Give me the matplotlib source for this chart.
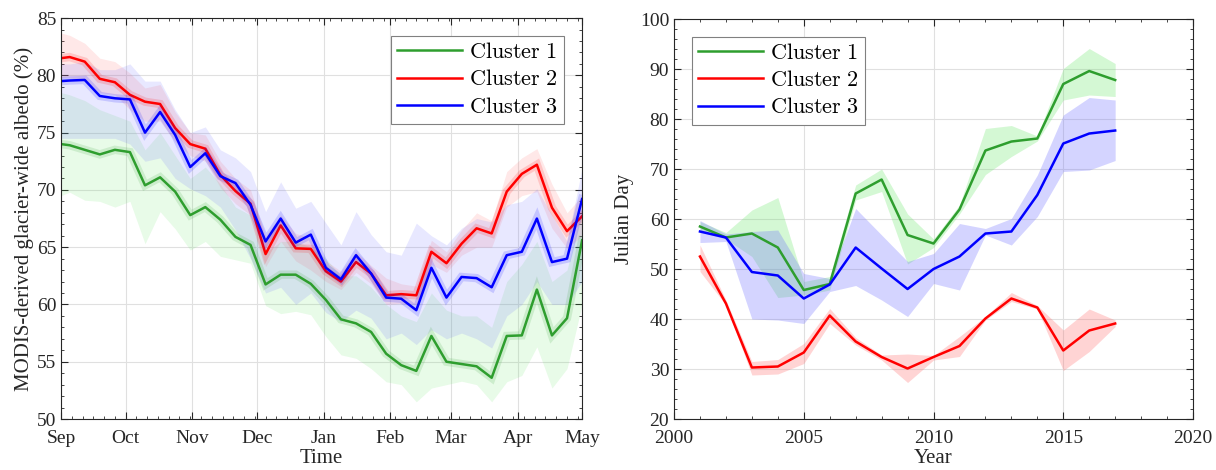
import numpy as np
import matplotlib.pyplot as plt
from matplotlib.ticker import MultipleLocator

plt.rcParams['font.family'] = ['Liberation Serif', 'DejaVu Serif']
plt.rcParams['mathtext.fontset'] = 'cm'

# ---- left panel: seasonal albedo (days since 1 Sep) ----
days = [0, 4, 11, 18, 25, 32, 39, 46, 53, 60, 67, 74, 81, 88, 95, 102, 109, 116,
        123, 130, 137, 144, 151, 158, 165, 172, 179, 186, 193, 200, 207, 214,
        221, 228, 235, 242]

alb1 = [74.0, 73.9, 73.5, 73.1, 73.5, 73.3, 70.4, 71.1, 69.85, 67.8, 68.5, 67.4,
        65.9, 65.2, 61.75, 62.6, 62.6, 61.8, 60.4, 58.7, 58.35, 57.6, 55.7, 54.7,
        54.2, 57.25, 55.0, 54.8, 54.6, 53.6, 57.25, 57.3, 61.3, 57.3, 58.8, 65.6]
alb1_lo = [69.5, 69.8, 69.1, 69.0, 68.5, 69.0, 65.3, 68.1, 66.6, 64.75, 65.5, 64.2,
           63.9, 63.6, 59.9, 59.2, 59.4, 59.1, 57.2, 55.6, 55.3, 54.4, 53.25, 53.0,
           51.5, 52.7, 53.0, 53.3, 53.0, 51.5, 53.25, 53.8, 56.3, 52.7, 54.4, 60.0]
alb1_hi = [78.5, 78.3, 77.8, 77.0, 76.5, 76.0, 73.5, 75.0, 73.0, 71.0, 72.0, 70.5,
           68.5, 67.8, 64.5, 65.5, 65.5, 65.0, 64.0, 62.5, 62.5, 61.5, 60.0, 59.0,
           58.5, 61.0, 59.5, 59.0, 59.0, 58.0, 62.0, 63.5, 65.5, 62.0, 63.0, 68.5]

alb2 = [81.5, 81.6, 81.2, 79.7, 79.4, 78.3, 77.7, 77.5, 75.4, 74.0, 73.6, 71.3,
        69.9, 68.8, 64.4, 66.9, 64.9, 64.85, 62.9, 62.0, 63.7, 62.7, 60.8, 60.9,
        60.8, 64.6, 63.6, 65.3, 66.65, 66.2, 69.85, 71.4, 72.2, 68.45, 66.4, 67.7]
alb2_lo = [79.8, 79.8, 79.5, 78.5, 78.3, 77.0, 76.0, 76.0, 74.2, 73.0, 72.5, 70.2,
           68.8, 67.8, 63.3, 65.5, 63.8, 63.0, 62.0, 61.3, 62.8, 61.8, 60.0, 60.1,
           60.0, 63.5, 62.8, 64.3, 65.0, 65.0, 68.5, 69.5, 69.85, 66.65, 64.9, 66.0]
alb2_hi = [83.7, 83.5, 82.8, 81.5, 81.2, 80.2, 78.9, 79.2, 76.8, 75.0, 74.8, 72.5,
           71.0, 70.0, 66.0, 67.8, 66.2, 65.8, 63.8, 62.9, 64.6, 63.4, 62.3, 61.8,
           61.6, 65.6, 64.6, 66.5, 68.0, 67.3, 71.6, 72.8, 73.6, 70.5, 68.0, 69.5]

alb3 = [79.5, 79.55, 79.6, 78.2, 78.0, 77.9, 75.0, 76.8, 74.8, 72.0, 73.2, 71.2,
        70.6, 68.7, 65.5, 67.5, 65.4, 66.1, 63.2, 62.2, 64.3, 62.7, 60.6, 60.5,
        59.5, 63.2, 60.6, 62.4, 62.3, 61.5, 64.3, 64.6, 67.5, 63.7, 64.0, 69.2]
alb3_lo = [74.5, 74.5, 74.5, 74.5, 74.5, 74.0, 72.5, 72.8, 71.0, 70.1, 69.5, 68.5,
           66.5, 64.0, 61.0, 61.5, 60.0, 61.0, 59.3, 58.5, 59.5, 58.8, 57.0, 57.5,
           56.5, 57.8, 57.0, 57.5, 57.0, 56.2, 59.0, 60.0, 62.0, 60.0, 60.0, 62.0]
alb3_hi = [81.0, 81.0, 81.2, 80.5, 80.5, 81.0, 79.5, 79.5, 77.0, 75.0, 75.5, 73.5,
           72.8, 71.6, 68.1, 70.7, 68.4, 69.0, 67.1, 65.2, 68.1, 66.1, 64.6, 64.3,
           67.1, 66.0, 65.2, 66.65, 67.5, 67.2, 68.7, 69.0, 70.1, 67.8, 65.5, 71.9]

month_days = [0, 30, 61, 91, 122, 153, 181, 212, 242]
month_labels = ['Sep', 'Oct', 'Nov', 'Dec', 'Jan', 'Feb', 'Mar', 'Apr', 'May']

# ---- right panel: julian day per year ----
years = list(range(2001, 2018))

jd1 = [58.5, 56.3, 57.1, 54.3, 45.8, 47.0, 65.1, 67.9, 56.8, 55.1, 61.9, 73.7,
       75.5, 76.1, 87.0, 89.6, 87.8]
jd1_lo = [57.5, 56.0, 52.5, 44.3, 44.8, 45.8, 63.8, 65.5, 51.0, 54.3, 61.0, 68.9,
          72.5, 75.6, 83.8, 84.8, 84.5]
jd1_hi = [59.5, 57.3, 61.8, 64.3, 47.5, 48.5, 66.8, 70.0, 61.0, 56.0, 62.8, 78.1,
          78.7, 76.6, 90.1, 94.1, 91.1]

jd2 = [52.5, 43.1, 30.3, 30.5, 33.3, 40.7, 35.5, 32.4, 30.1, 32.4, 34.6, 40.1,
       44.1, 42.3, 33.7, 37.7, 39.1]
jd2_lo = [49.5, 42.8, 28.8, 29.0, 31.1, 39.1, 34.8, 31.8, 27.3, 31.8, 32.5, 39.8,
          43.5, 42.0, 29.7, 33.5, 38.5]
jd2_hi = [54.8, 43.8, 31.5, 31.9, 35.1, 42.1, 36.3, 32.8, 33.0, 32.7, 36.5, 40.5,
          45.3, 42.7, 37.8, 42.0, 39.8]

jd3 = [57.5, 56.3, 49.4, 48.7, 44.1, 46.9, 54.3, 50.1, 46.0, 50.0, 52.5, 57.1,
       57.5, 64.8, 75.1, 77.1, 77.7]
jd3_lo = [55.3, 55.5, 40.0, 39.8, 39.1, 45.5, 46.7, 43.8, 40.5, 47.1, 45.8, 56.8,
          54.8, 60.5, 69.5, 69.8, 71.7]
jd3_hi = [59.7, 57.0, 57.5, 57.8, 49.1, 48.1, 62.1, 56.8, 51.5, 53.1, 59.1, 58.1,
          60.1, 68.8, 80.8, 84.3, 83.8]

labels = [r'$\mathrm{Cluster\ 1}$', r'$\mathrm{Cluster\ 2}$', r'$\mathrm{Cluster\ 3}$']
line_cols = ['#2e9e2e', '#ff0000', '#0000ff']
band_cols = [(0.4, 0.9, 0.4), (1.0, 0.4, 0.4), (0.4, 0.4, 1.0)]
frame_col = (0.15, 0.15, 0.15)

fig = plt.figure(figsize=(12.16, 4.70), dpi=100)
ax1 = fig.add_axes([0.0502, 0.1085, 0.4285, 0.853])
ax2 = fig.add_axes([0.5543, 0.1085, 0.4268, 0.851])

left_sets = [(alb1, alb1_lo, alb1_hi), (alb2, alb2_lo, alb2_hi), (alb3, alb3_lo, alb3_hi)]
for (y, lo, hi), lc, bc in zip(left_sets, line_cols, band_cols):
    ax1.fill_between(days, lo, hi, color=bc, alpha=0.15, lw=0)
for (y, lo, hi), lc, bc, lab in zip(left_sets, line_cols, band_cols, labels):
    ax1.plot(days, y, color=lc, lw=6, alpha=0.15, solid_joinstyle='miter')
    ax1.plot(days, y, color=lc, lw=1.8, label=lab)

right_sets = [(jd1, jd1_lo, jd1_hi), (jd2, jd2_lo, jd2_hi), (jd3, jd3_lo, jd3_hi)]
for (y, lo, hi), lc, bc in zip(right_sets, line_cols, band_cols):
    ax2.fill_between(years, lo, hi, color=bc, alpha=0.28, lw=0)
for (y, lo, hi), lc, bc, lab in zip(right_sets, line_cols, band_cols, labels):
    ax2.plot(years, y, color=lc, lw=1.8, label=lab)

ax1.set_xlim(0, 242)
ax1.set_ylim(50, 85)
ax1.set_xticks(month_days)
ax1.set_xticklabels(month_labels)
ax1.xaxis.set_minor_locator(MultipleLocator(5))
ax1.yaxis.set_major_locator(MultipleLocator(5))
ax1.yaxis.set_minor_locator(MultipleLocator(1))
ax1.set_xlabel('Time', fontsize=15, labelpad=1)
ax1.set_ylabel('MODIS-derived glacier-wide albedo (%)', fontsize=15, labelpad=2)

ax2.set_xlim(2000, 2020)
ax2.set_ylim(20, 100)
ax2.xaxis.set_major_locator(MultipleLocator(5))
ax2.xaxis.set_minor_locator(MultipleLocator(1))
ax2.yaxis.set_major_locator(MultipleLocator(10))
ax2.yaxis.set_minor_locator(MultipleLocator(2))
ax2.set_xlabel('Year', fontsize=15, labelpad=1)
ax2.set_ylabel('Julian Day', fontsize=15, labelpad=4)

for ax in (ax1, ax2):
    ax.grid(True, which='major', color=(0.88, 0.88, 0.88), lw=0.8)
    ax.set_axisbelow(True)
    ax.tick_params(which='both', direction='in', top=True, right=True,
                   colors=frame_col, labelsize=14, labelcolor=frame_col)
    ax.tick_params(axis='x', which='major', pad=8)
    ax.tick_params(which='major', length=5)
    ax.tick_params(which='minor', length=2.5)
    for s in ax.spines.values():
        s.set_color(frame_col)
        s.set_linewidth(0.8)
    ax.xaxis.label.set_color(frame_col)
    ax.yaxis.label.set_color(frame_col)

leg_kw = dict(fontsize=16, fancybox=False, framealpha=1, edgecolor=(0.5, 0.5, 0.5),
              handlelength=2.9, handletextpad=0.3, labelspacing=0.3,
              borderpad=0.3, borderaxespad=0.8)
l1 = ax1.legend(loc='upper right', **leg_kw)
l2 = ax2.legend(loc='upper left', **leg_kw)
for lg in (l1, l2):
    lg.get_frame().set_linewidth(0.8)

fig.savefig('out.png', dpi=100)
